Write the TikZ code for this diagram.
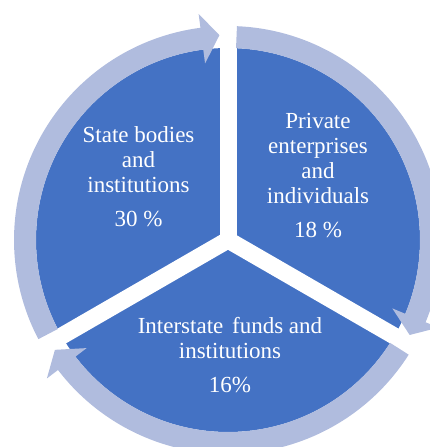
\documentclass[tikz,border=0pt]{standalone}
\usepackage{fontspec}
\setmainfont{Liberation Serif}
\usetikzlibrary{calc}
\definecolor{sectorblue}{RGB}{68,114,196}
\definecolor{ringblue}{RGB}{176,188,222}
\tikzset{
    sector text/.style={text=white, align=center, inner sep=0pt, anchor=north, font=\fontsize{23}{25}\selectfont},
    gap line/.style={white, line width=17pt},
    ring arrow/.style={fill=ringblue}
}
\newcommand{\ringarrow}[2]{
    \fill[ring arrow] ($(C)+(#1:214pt)$) arc[start angle=#1, end angle=#2+5, radius=214pt]
        -- ($(C)+(#2+5:228pt)$) -- ($(C)+(#2:205pt)$) -- ($(C)+(#2+5:178pt)$)
        -- ($(C)+(#2+5:192pt)$) arc[start angle=#2+5, end angle=#1, radius=192pt] -- cycle;
}

\begin{document}
\begin{tikzpicture}
            \useasboundingbox (0,0) rectangle (430pt,447pt);
            \clip (0,0) rectangle (430pt,447pt);
            \coordinate (C) at (228pt,207pt);
            \fill[sectorblue] (C) circle[radius=192pt];
            \foreach \a in {90,210,330} {
                \draw[gap line] (C) -- ($(C)+(\a:200pt)$);
            }
            \ringarrow{207.6}{92.4}
            \ringarrow{87.6}{-27.6}
            \ringarrow{-32.4}{-147.6}
            \node[sector text] (STATE) at ($(C) + (-89.5pt, 113.9pt)$) {State bodies\\and\\institutions\\[9pt]30 \%};
            \node[sector text] (PRIVATE) at ($(C) + (90pt, 127.4pt)$) {Private\\enterprises\\and\\individuals\\[9pt]18 \%};
            \node[sector text] (INTERSTATE) at ($(C) + (2pt, -77.6pt)$) {Interstate\hspace{3pt} funds and\\institutions\\[9pt]16\%};
        \end{tikzpicture}
\end{document}
